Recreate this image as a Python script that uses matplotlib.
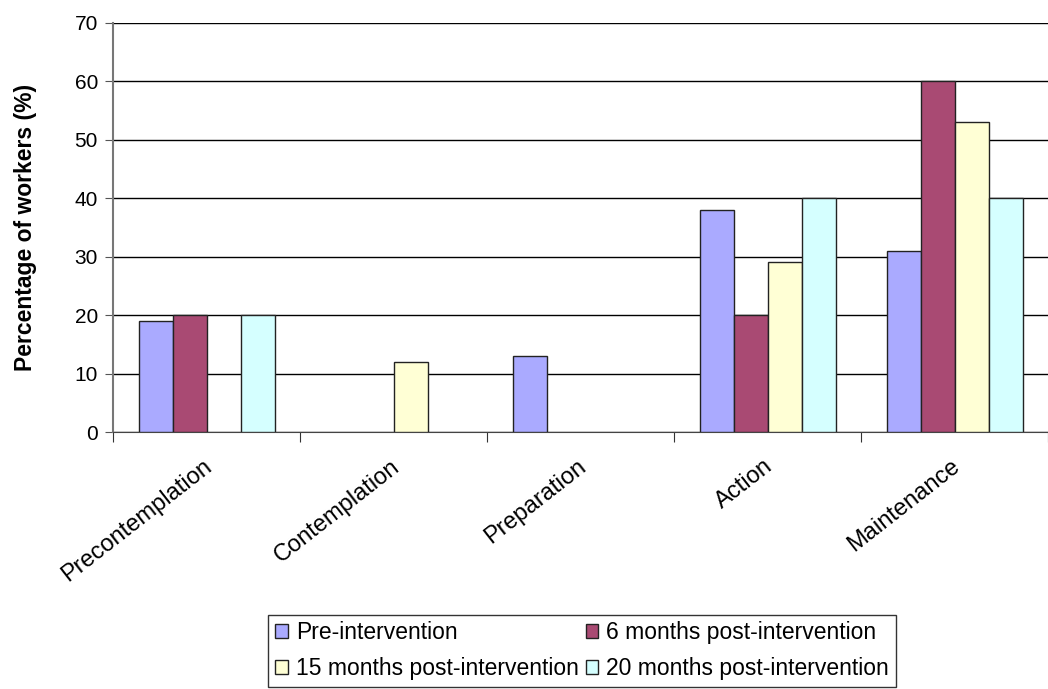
import numpy as np
import matplotlib.pyplot as plt
from matplotlib.patches import Patch

plt.rcParams['font.family'] = ['Liberation Sans', 'DejaVu Sans']

# stages of change, percentage of workers per time point
stages = ["Precontemplation", "Contemplation", "Preparation", "Action", "Maintenance"]
pre = [19, 0, 13, 38, 31]
m6 = [20, 0, 0, 20, 60]
m15 = [0, 12, 0, 29, 53]
m20 = [20, 0, 0, 40, 40]

series = [pre, m6, m15, m20]
names = ["Pre-intervention", "6 months post-intervention",
         "15 months post-intervention", "20 months post-intervention"]
colors = ["#AAAAFF", "#A94A73", "#FFFFD5", "#D5FFFF"]

fig = plt.figure(figsize=(10.48, 6.89), dpi=100)
ax = fig.add_axes([0.108, 0.373, 0.892, 0.594])

x = np.arange(len(stages))
w = 1 / 5.5
for i, (vals, name, c) in enumerate(zip(series, names, colors)):
    b = ax.bar(x + (i - 1.5) * w, vals, w, color=c, edgecolor="#222222",
               linewidth=1.0, label=name, zorder=3)
    # empty categories get no outline
    for p, v in zip(b.patches, vals):
        if v == 0:
            p.set_visible(False)

ax.set_xlim(-0.5, len(stages) - 0.5)
ax.set_ylim(0, 70)
ax.set_yticks(range(0, 71, 10))
ax.yaxis.grid(True, color="black", linewidth=1.0, zorder=0)
ax.tick_params(axis="y", labelsize=15, length=6, color="#555555", pad=5)

# category ticks sit on the boundaries, labels at centres
ax.set_xticks(np.arange(len(stages) + 1) - 0.5)
ax.set_xticklabels([])
ax.tick_params(axis="x", length=7, color="#333333")
for xi, s in zip(x, stages):
    ax.text(xi - 0.02, -4.0, s, rotation=38, ha="right", va="top",
            rotation_mode="anchor", fontsize=17)

for sp in ["top", "right"]:
    ax.spines[sp].set_visible(False)
ax.spines["left"].set_color("#777777")
ax.spines["left"].set_linewidth(1.5)
ax.spines["bottom"].set_color("#444444")

ax.set_ylabel("Percentage of workers (%)", fontsize=16.5, fontweight="bold", labelpad=27)

# legend filled row by row
order = [0, 2, 1, 3]
handles = [Patch(facecolor=colors[k], edgecolor="#222222", linewidth=1.0) for k in order]
leg = fig.legend(handles=handles, labels=[names[k] for k in order],
                 loc="upper left", bbox_to_anchor=(0.256, 0.108),
                 ncol=2, fontsize=16.5, frameon=True, fancybox=False,
                 edgecolor="black", handlelength=0.55, handleheight=0.55,
                 handletextpad=0.35, columnspacing=0.3, borderpad=0.3,
                 labelspacing=0.55, borderaxespad=0)
leg.get_frame().set_linewidth(1.0)

fig.savefig("out.png", dpi=100)
